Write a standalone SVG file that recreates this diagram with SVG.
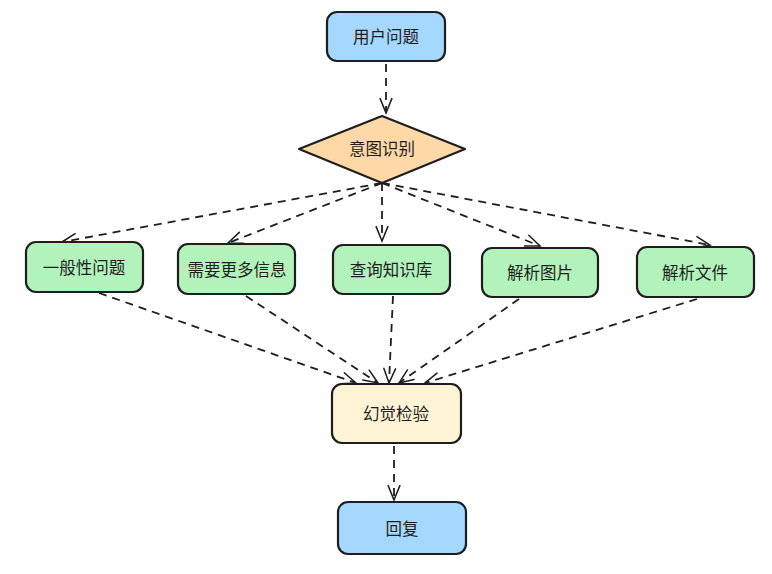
<svg xmlns="http://www.w3.org/2000/svg" width="772" height="574" viewBox="0 0 772 574">
<style>
.box{stroke:#1e1e1e;stroke-width:2.2}
.blue{fill:#a5d8ff}.green{fill:#b2f2bb}.orange{fill:#ffd8a8}.yellow{fill:#fff3d6}
.lbl{font-family:"Noto Sans CJK SC","Noto Sans",sans-serif;font-size:16.5px;fill:#1e1e1e;text-anchor:middle;dominant-baseline:central}
.edge{fill:none;stroke:#1e1e1e;stroke-width:1.8;stroke-dasharray:8 6}
</style>
<defs>
<marker id="arr" viewBox="0 0 20 20" refX="18" refY="10" markerWidth="18" markerHeight="18" orient="auto" markerUnits="userSpaceOnUse">
<path d="M2 3.5 L18 10 L2 16.5" fill="none" stroke="#1e1e1e" stroke-width="1.7" stroke-linecap="round"/>
</marker>
</defs>
<rect width="772" height="574" fill="#ffffff"/>
<g id="connectors">
<path class="edge" d="M386 64 L386 113" marker-end="url(#arr)"/>
<path class="edge" d="M382 183 L62 242" marker-end="url(#arr)"/>
<path class="edge" d="M382 183 L228 243" marker-end="url(#arr)"/>
<path class="edge" d="M382 183 L382 241" marker-end="url(#arr)"/>
<path class="edge" d="M382 183 L540 246" marker-end="url(#arr)"/>
<path class="edge" d="M382 183 L710 245" marker-end="url(#arr)"/>
<path class="edge" d="M99 293 L356 383" marker-end="url(#arr)"/>
<path class="edge" d="M246 296 L378 383" marker-end="url(#arr)"/>
<path class="edge" d="M393 296 L389 383" marker-end="url(#arr)"/>
<path class="edge" d="M519 299 L399 383" marker-end="url(#arr)"/>
<path class="edge" d="M697 299 L425 383" marker-end="url(#arr)"/>
<path class="edge" d="M394 446 L394 500" marker-end="url(#arr)"/>
</g>
<g id="n-user">
<rect class="box blue" x="327" y="12" width="118" height="49" rx="10"/>
<text class="lbl" x="386" y="36">用户问题</text>
</g>
<g id="n-intent">
<path class="box orange" d="M382 116 L465 149 L382 183 L299 149 Z" stroke-linejoin="round"/>
<text class="lbl" x="382" y="148">意图识别</text>
</g>
<g id="n-general">
<rect class="box green" x="26" y="242" width="117" height="50" rx="10"/>
<text class="lbl" x="84" y="267">一般性问题</text>
</g>
<g id="n-more">
<rect class="box green" x="178" y="244" width="117" height="50" rx="10"/>
<text class="lbl" x="237" y="269">需要更多信息</text>
</g>
<g id="n-kb">
<rect class="box green" x="333" y="245" width="117" height="49" rx="10"/>
<text class="lbl" x="391" y="269">查询知识库</text>
</g>
<g id="n-image">
<rect class="box green" x="482" y="248" width="116" height="49" rx="10"/>
<text class="lbl" x="540" y="272">解析图片</text>
</g>
<g id="n-file">
<rect class="box green" x="637" y="247" width="117" height="50" rx="10"/>
<text class="lbl" x="695" y="272">解析文件</text>
</g>
<g id="n-halluc">
<rect class="box yellow" x="332" y="384" width="129" height="59" rx="10"/>
<text class="lbl" x="396" y="413">幻觉检验</text>
</g>
<g id="n-reply">
<rect class="box blue" x="338" y="502" width="128" height="52" rx="10"/>
<text class="lbl" x="402" y="528">回复</text>
</g>
</svg>
